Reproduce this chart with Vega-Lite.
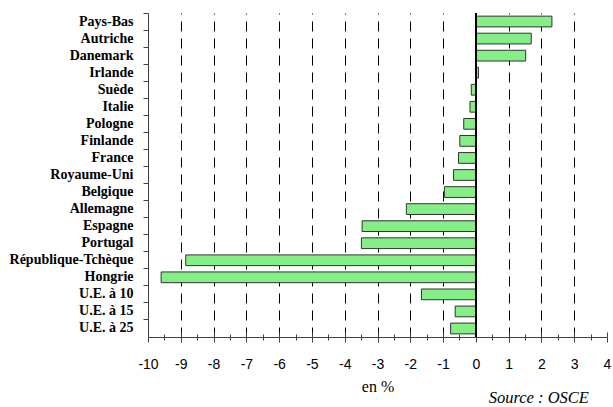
{
  "$schema": "https://vega.github.io/schema/vega-lite/v6.json",
  "autosize": {"type": "none"},
  "padding": {"left": 148, "top": 13, "right": 6, "bottom": 70},
  "width": 459,
  "height": 324,
  "background": "white",
  "title": {
    "text": "Source : OSCE",
    "orient": "bottom",
    "anchor": "end",
    "font": "Liberation Serif",
    "fontStyle": "italic",
    "fontWeight": "normal",
    "fontSize": 16.5,
    "color": "black",
    "dx": -22,
    "dy": -3,
    "offset": -1
  },
  "data": {
    "values": [
      {"pays": "Pays-Bas", "valeur": 2.32},
      {"pays": "Autriche", "valeur": 1.69},
      {"pays": "Danemark", "valeur": 1.52},
      {"pays": "Irlande", "valeur": 0.08},
      {"pays": "Suède", "valeur": -0.14},
      {"pays": "Italie", "valeur": -0.18},
      {"pays": "Pologne", "valeur": -0.37},
      {"pays": "Finlande", "valeur": -0.49},
      {"pays": "France", "valeur": -0.53},
      {"pays": "Royaume-Uni", "valeur": -0.68},
      {"pays": "Belgique", "valeur": -0.96},
      {"pays": "Allemagne", "valeur": -2.12},
      {"pays": "Espagne", "valeur": -3.47},
      {"pays": "Portugal", "valeur": -3.49},
      {"pays": "République-Tchèque", "valeur": -8.85},
      {"pays": "Hongrie", "valeur": -9.6},
      {"pays": "U.E. à 10", "valeur": -1.66},
      {"pays": "U.E. à 15", "valeur": -0.63},
      {"pays": "U.E. à 25", "valeur": -0.77}
    ]
  },
  "layer": [
    {
      "mark": {"type": "bar", "fill": "#86ee86", "stroke": "#333333", "strokeWidth": 1, "height": {"band": 0.63}},
      "encoding": {
        "y": {
          "field": "pays",
          "type": "nominal",
          "sort": null,
          "scale": {"paddingInner": 0, "paddingOuter": 0},
          "axis": {
            "title": null,
            "bandPosition": 0,
            "domainColor": "#404040",
            "tickColor": "#404040",
            "tickSize": 5,
            "labelPadding": 10,
            "labelFont": "Liberation Serif",
            "labelFontWeight": "bold",
            "labelFontSize": 14,
            "labelColor": "black",
            "labelLimit": 200
          }
        },
        "x": {
          "field": "valeur",
          "type": "quantitative",
          "scale": {"domain": [-10, 4], "nice": false, "zero": false},
          "axis": {
            "orient": "bottom",
            "title": "en %",
            "titleFont": "Liberation Serif",
            "titleFontWeight": "normal",
            "titleFontSize": 16,
            "titleColor": "black",
            "titlePadding": 7,
            "values": [-10, -9.5, -9, -8.5, -8, -7.5, -7, -6.5, -6, -5.5, -5, -4.5, -4, -3.5, -3, -2.5, -2, -1.5, -1, -0.5, 0, 0.5, 1, 1.5, 2, 2.5, 3, 3.5, 4],
            "labelExpr": "datum.value % 1 === 0 ? '' + datum.value : ''",
            "labelFont": "Liberation Sans",
            "labelFontSize": 14,
            "labelColor": "black",
            "labelPadding": 15,
            "labelFlush": false,
            "labelOverlap": false,
            "domainColor": "#404040",
            "tickColor": "#404040",
            "tickSize": {"condition": {"test": "datum.value % 1 === 0", "value": 5}, "value": 3},
            "grid": true,
            "gridColor": "black",
            "gridDash": [10, 7],
            "gridWidth": 1,
            "gridOpacity": {"condition": {"test": "datum.value % 1 === 0 && datum.value > -10 && datum.value < 4 && datum.value !== 0", "value": 1}, "value": 0}
          }
        }
      }
    },
    {
      "mark": {"type": "rule", "color": "black", "strokeWidth": 1},
      "encoding": {
        "x": {
          "datum": 0,
          "type": "quantitative",
          "axis": {
            "orient": "bottom",
            "offset": -5,
            "title": null,
            "labels": false,
            "domain": false,
            "grid": false,
            "values": [-10, -9, -8, -7, -6, -5, -4, -3, -2, -1, 0, 1, 2, 3, 4],
            "tickColor": "#404040",
            "tickSize": 5
          }
        }
      }
    },
    {
      "mark": {"type": "rule", "color": "black", "strokeWidth": 1},
      "encoding": {
        "x": {
          "datum": 0,
          "type": "quantitative",
          "axis": {
            "orient": "bottom",
            "offset": -3,
            "title": null,
            "labels": false,
            "domain": false,
            "grid": false,
            "values": [-9.5, -8.5, -7.5, -6.5, -5.5, -4.5, -3.5, -2.5, -1.5, -0.5, 0.5, 1.5, 2.5, 3.5],
            "tickColor": "#404040",
            "tickSize": 3
          }
        }
      }
    }
  ],
  "resolve": {"axis": {"x": "independent"}},
  "config": {"view": {"stroke": null}}
}
